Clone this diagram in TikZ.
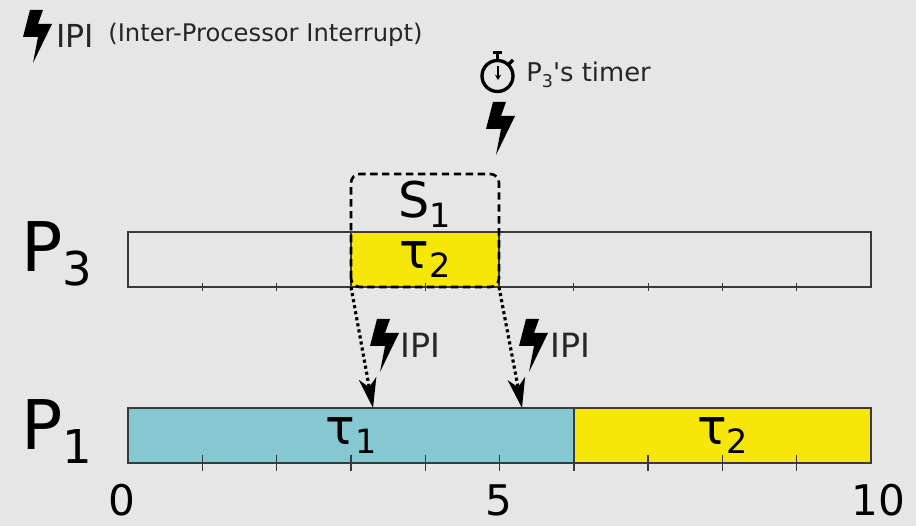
\documentclass[tikz,border=0pt]{standalone}
\usepackage{fontspec}
\usepackage{graphicx}
\setmainfont{DejaVu Sans}
\usetikzlibrary{arrows.meta}
\definecolor{bgrey}{HTML}{E6E6E6}
\definecolor{taublue}{HTML}{85C8D1}
\definecolor{tauyellow}{HTML}{F6E60A}
\definecolor{barline}{HTML}{3A3A3A}
\newcommand{\subs}[1]{\raisebox{-0.2em}{\scalebox{0.68}{#1}}}
\tikzset{
  procbar/.style={draw=barline, line width=0.8pt, minimum height=1.1cm, inner sep=0, outer sep=0, anchor=north west},
  hugetext/.style={font=\fontsize{39}{40}\selectfont, inner sep=0, anchor=base west},
  tasktext/.style={font=\fontsize{28}{30}\selectfont, inner sep=0},
  axistext/.style={font=\fontsize{24}{26}\selectfont, inner sep=0, anchor=base},
  ipitext/.style={font=\fontsize{19}{20}\selectfont, text=black!85, inner sep=0, anchor=base west},
  smalltext/.style={font=\fontsize{14.7}{16}\selectfont, text=black!85, inner sep=0, anchor=base west},
  ipiarrow/.style={-{Stealth[length=17pt,width=10pt,inset=5pt]}, dash pattern=on 1.8pt off 1.7pt, line width=1.8pt},
  bolt/.pic={\fill[black] (-7,-26) -- (6,-26) -- (1,-12) -- (15,-12) -- (-4,27) -- (1,1) -- (-14,1) -- cycle;}
}
\begin{document}
\begin{tikzpicture}[x=0.02cm,y=-0.02cm]
\fill[bgrey] (0,0) rectangle (916,526);
\useasboundingbox (0,0) rectangle (916,526);

% legend
\pic (legendbolt) at (37,36) {bolt};
\node[ipitext,font=\fontsize{18}{20}\selectfont] (legendipi) at (56,48) {IPI};
\node[smalltext,font=\fontsize{13.8}{15}\selectfont] (legendtext) at (108,42) {(Inter-Processor Interrupt)};

% timer
\draw[line width=1.9pt] (497.5,76) circle (15.5);
\draw[line width=1.9pt] (497.5,60) -- (497.5,53);
\draw[line width=1.9pt] (493,52.5) -- (502,52.5);
\draw[line width=1.9pt] (508,65) -- (513,60);
\draw[line width=1.2pt,-{Stealth[length=3pt,width=3.5pt]}] (498,66) -- (498,80);
\node[smalltext] (timertext) at (526,82) {P\subs{3}\textquotesingle s timer};
\pic (timerbolt) at (500,128) {bolt};

% P3
\node[hugetext] (pthree) at (21,272) {P\subs{3}};
\node[procbar,minimum width=14.86cm] (barthree) at (128,232) {};
\node[procbar,fill=tauyellow,minimum width=2.96cm,tasktext] (tautwotop) at (351,232) {τ\subs{2}};
\draw[line width=1.3pt,barline] (barthree.south west) -- (barthree.south east);

% P1
\node[hugetext] (pone) at (21,450) {P\subs{1}};
\node[procbar,fill=taublue,minimum width=8.92cm,tasktext] (tauone) at (128,408) {τ\subs{1}};
\node[procbar,fill=tauyellow,minimum width=5.94cm,tasktext] (tautwo) at (574,408) {τ\subs{2}};
\draw[line width=1.3pt,barline] (tauone.south west) -- (tautwo.south east);

% ticks
\foreach \x in {1,...,9} {
  \draw[barline,line width=0.6pt] (128+74.3*\x,283) -- (128+74.3*\x,291);
  \draw[barline,line width=0.8pt] (128+74.3*\x,455) -- (128+74.3*\x,471);
}
\node[axistext] (tickzero) at (122,516) {0};
\node[axistext] (tickfive) at (499,516) {5};
\node[axistext] (tickten) at (878,516) {10};

% S1
\draw[dash pattern=on 4.2pt off 2.6pt,line width=1.5pt,rounded corners=5pt] (tautwotop.south west) -- (351,174) -- (499,174) -- (tautwotop.south east) -- cycle;
\node[tasktext,anchor=base] (sone) at (425,218) {S\subs{1}};

% interrupts
\coordinate (hitone) at (373,408);
\coordinate (hittwo) at (522,408);
\draw[ipiarrow] (tautwotop.south west) -- (hitone);
\draw[ipiarrow] (tautwotop.south east) -- (hittwo);
\pic (boltone) at (384,345) {bolt};
\node[ipitext] (ipione) at (400,358) {IPI};
\pic (bolttwo) at (533,345) {bolt};
\node[ipitext] (ipitwo) at (550,358) {IPI};
\end{tikzpicture}
\end{document}
